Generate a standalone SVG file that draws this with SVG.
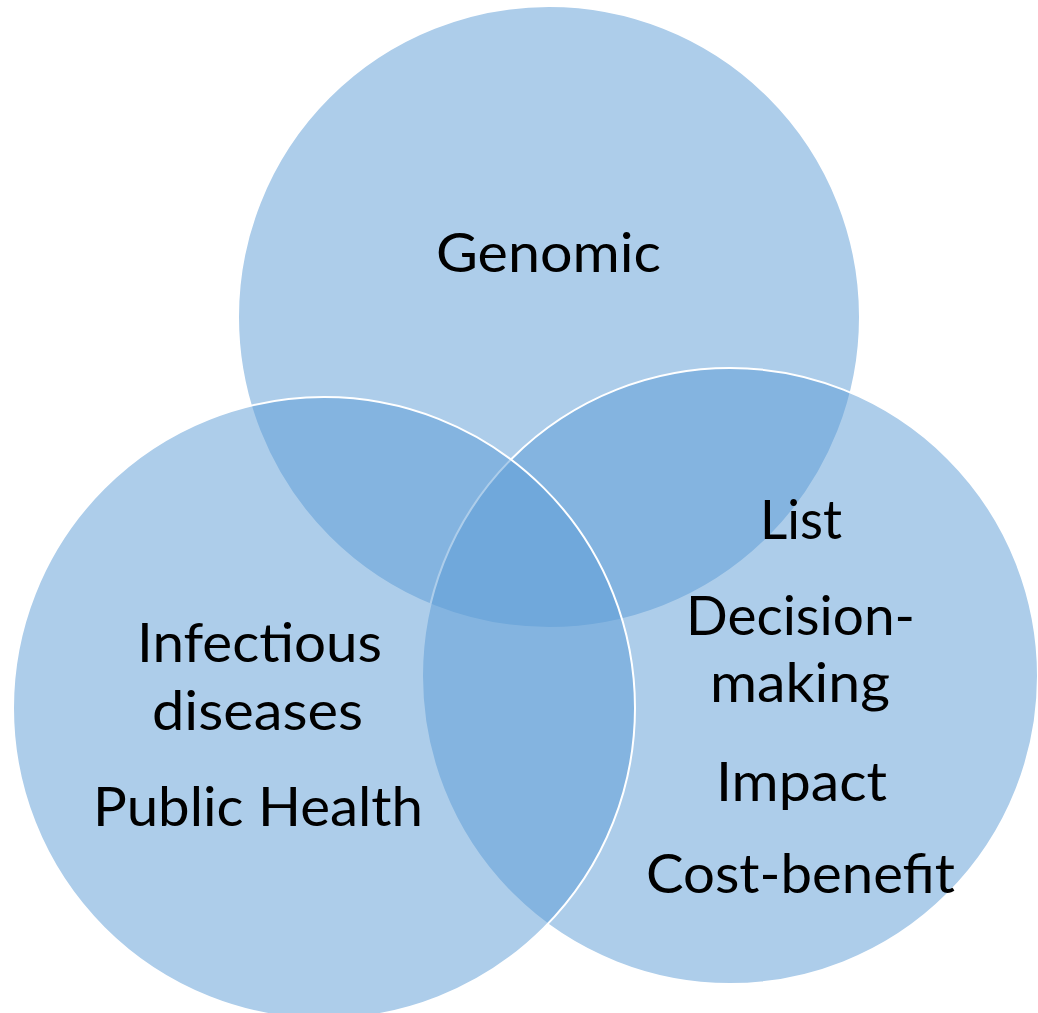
<svg xmlns="http://www.w3.org/2000/svg" width="1038" height="1013" viewBox="0 0 1038 1013">
  <style>
    .set { fill: #5B9BD5; fill-opacity: 0.5; stroke: #FFFFFF; stroke-width: 2; }
    .label { font-family: Lato, "Open Sans", "Liberation Sans", sans-serif; font-size: 54px; fill: #000000; text-anchor: middle; }
  </style>
  <rect x="0" y="0" width="1038" height="1013" fill="#FFFFFF"/>

  <!-- Top set -->
  <g id="genomic">
    <circle class="set" cx="549" cy="317" r="311"/>
    <text class="label" x="548.5" y="272" textLength="225" lengthAdjust="spacingAndGlyphs">Genomic</text>
  </g>

  <!-- Right set -->
  <g id="decision">
    <circle class="set" cx="730" cy="676" r="308"/>
    <text class="label" x="801" y="539" textLength="82" lengthAdjust="spacingAndGlyphs">List</text>
    <text class="label" x="800.5" y="635" textLength="229" lengthAdjust="spacingAndGlyphs">Decision-</text>
    <text class="label" x="800" y="702" textLength="180" lengthAdjust="spacingAndGlyphs">making</text>
    <text class="label" x="801.5" y="801" textLength="171" lengthAdjust="spacingAndGlyphs">Impact</text>
    <text class="label" x="800.5" y="893" textLength="309" lengthAdjust="spacingAndGlyphs">Cost-benefit</text>
  </g>

  <!-- Left set -->
  <g id="infectious">
    <circle class="set" cx="324" cy="708" r="311"/>
    <text class="label" x="259.5" y="662" textLength="245" lengthAdjust="spacingAndGlyphs">Infectious</text>
    <text class="label" x="257.5" y="730" textLength="211" lengthAdjust="spacingAndGlyphs">diseases</text>
    <text class="label" x="258" y="826" textLength="330" lengthAdjust="spacingAndGlyphs">Public Health</text>
  </g>

  <!-- no connectors in this diagram -->
  <g id="connectors"/>
</svg>
